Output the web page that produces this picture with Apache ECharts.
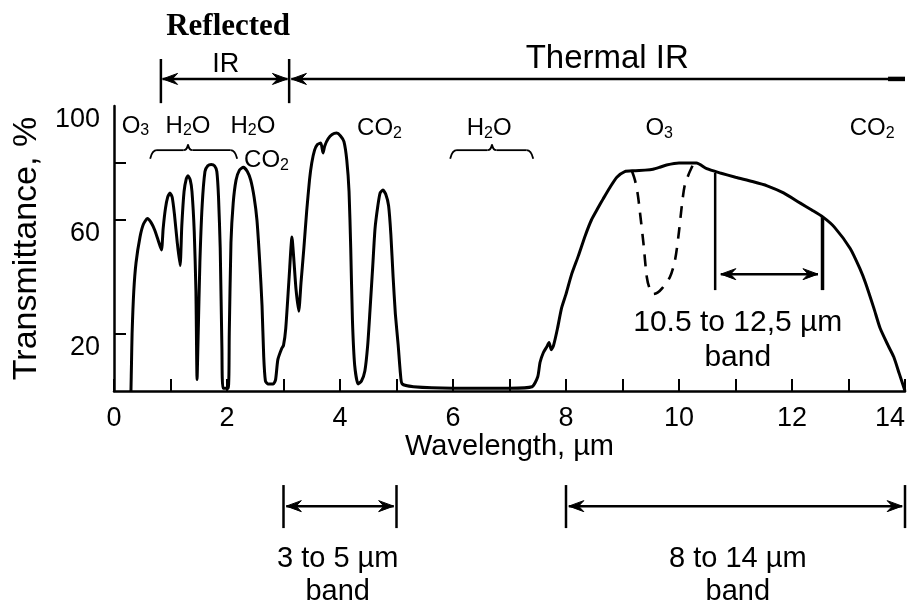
<!DOCTYPE html>
<html><head><meta charset="utf-8">
<script src="https://cdn.jsdelivr.net/npm/echarts@6/dist/echarts.min.js"></script>
<style>html,body{margin:0;padding:0;background:#fff}#c{width:909px;height:610px}</style>
</head><body><div id="c"></div>
<script>
// ---- data (wavelength in µm, transmittance in %) ----
const wavelength = [0.30,0.31,0.32,0.35,0.39,0.46,0.52,0.59,0.66,0.72,0.78,0.84,
  0.87,0.91,0.95,0.99,1.03,1.07,1.12,1.17,
  1.20,1.24,1.28,1.31,1.35,1.38,1.42,1.45,1.47,1.49,1.52,1.56,1.61,1.66,1.72,1.78,1.82,1.85,1.88,1.91,1.93,2.02,
  2.04,2.07,2.11,2.16,2.22,2.29,2.36,2.42,2.48,2.53,2.58,2.62,2.65,2.68,2.72,2.82,2.86,2.90,2.97,3.00,3.04,3.10,3.15,
  3.18,3.22,3.27,3.31,3.36,3.41,3.46,3.50,3.55,3.60,3.66,3.70,3.73,3.79,3.86,3.94,4.01,4.07,4.12,4.16,4.19,4.22,4.26,4.32,
  4.38,4.44,4.49,4.53,4.58,4.62,4.67,4.71,4.76,4.81,4.86,4.90,4.94,4.98,5.03,5.07,5.10,5.30,6.00,7.00,7.40,
  7.50,7.54,7.60,7.66,7.70,7.74,7.78,7.85,7.92,8.00,8.10,8.22,8.34,8.45,8.56,8.66,8.78,8.90,9.04,9.20,9.40,9.54,9.66,9.78,
  10.00,10.20,10.31,10.49,10.73,11.00,11.30,11.56,11.85,12.14,12.35,12.55,12.75,13.03,13.20,13.30,13.45,13.56,13.70,13.80,13.90,14.00];
const transmittance = [0,10,20,35,45,54,58.5,60.5,59,56.5,53,49.5,
  57,64,68,69.5,68,62,52,44,
  58,70,74.5,75.5,74,70,56,35,4,20,45,65,77,79,79.5,79,77,68,50,15,1,1,
  20,52,66,74,77.5,78.5,77,74,68,60,45,30,12,3.5,2.5,2.5,4,11,15,16,22,40,54,
  47,36,28,38,50,63,74,80,84.5,86.5,87,83.5,86,88.5,90,90.5,89.5,87.5,81,70,50,25,9,2.5,
  3.5,7,16,28,44,57,65,69.5,70.5,69,65,55,40,27,16,6,2.5,1.5,1,1,1.5,
  5,10,13.5,15.5,17,14.5,16,22,29,34,41,47.5,54.5,60,64,67.5,71.5,75,77,77.3,77.5,77.8,78.5,79.3,
  80,80,80,78,76.5,75,73.5,72,69.5,66,63.5,61,57.5,50,43,38,29,22,16,12,6,0];
// ozone absorption (dashed)
const o3Wavelength = [9.17,9.22,9.27,9.31,9.37,9.43,9.48,9.55,9.62,9.70,9.84,9.93,10.00,10.05,10.10,10.17,10.25];
const o3Transmittance = [77,74,69,62.5,52,40,36,34,34.5,36,40,46,56,65,72,76,79.5];
// axis ticks / labels
const xTickValues = [0,1,2,3,4,5,6,7,8,9,10,11,12,13,14];
const xLabelValues = [0,2,4,6,8,10,12,14];
const yTickValues = [20,60,80];
const yLabelValues = [20,60,100];

// ---- annotation anchors in data units (µm, %) ----
const ANN = {
  reflected: [2.02, 127.7], ir: [1.98, 114.5],
  reflBars: [0.83, 3.10], reflBarT: [101, 116.5], arrowT: 109.5,
  thermalStart: 3.14, thermalEnd: 14.0, thermalText: [8.73, 116.5],
  gases: [[0.38,93,'O','3',''],[1.31,93,'H','2','O'],[2.46,93,'H','2','O'],[2.70,81,'CO','2',''],
          [4.70,92,'CO','2',''],[6.64,92,'H','2','O'],[9.65,92,'O','3',''],[13.42,92,'CO','2','']],
  braces: [[0.64,2.18,1.31],[5.95,7.42,6.69]], braceT: [81.5,84.5,86.5],
  bandL: 10.64, bandR: 12.54, bandBottom: 35.4, bandArrowT: 41, bandText: [11.04, 23.9], bandText2: [11.04, 11.6],
  b35: [3.0, 5.0], b814: [8.0, 14.0], bBarT: [-33, -48.1], bArrowT: -40.4,
  b35Text: [3.96, -59, -70.5], b814Text: [11.04, -59, -70.5]
};

const FONT = 'Liberation Sans, Arial, Helvetica, sans-serif';
const chart = echarts.init(document.getElementById('c'), null, {renderer:'canvas'});
const curve = wavelength.map((x,i)=>[x, transmittance[i]]);
const o3 = o3Wavelength.map((x,i)=>[x, o3Transmittance[i]]);

chart.setOption({
  backgroundColor:'#fff',
  animation:false,
  grid:{left:114, right:4, top:106, bottom:219, containLabel:false, outerBoundsMode:'none'},
  xAxis:{type:'value', min:0, max:14, interval:2,
    name:'Wavelength, µm', nameLocation:'middle', nameGap:32,
    nameTextStyle:{fontFamily:FONT, fontSize:29, color:'#000'},
    axisLine:{lineStyle:{color:'#000', width:2.5}},
    axisTick:{inside:true, length:12, lineStyle:{color:'#000', width:2}, customValues:xTickValues},
    axisLabel:{fontFamily:FONT, fontSize:27, color:'#000', margin:14, customValues:xLabelValues, hideOverlap:false, alignMaxLabel:'right'},
    splitLine:{show:false}},
  yAxis:{type:'value', min:0, max:100, interval:20,
    name:'Transmittance, %', nameLocation:'middle', nameGap:60, nameRotate:90,
    nameTextStyle:{fontFamily:FONT, fontSize:34, color:'#000'},
    axisLine:{show:true, lineStyle:{color:'#000', width:2.5}},
    axisTick:{show:true, inside:true, length:12, lineStyle:{color:'#000', width:2}, customValues:yTickValues},
    axisLabel:{fontFamily:FONT, fontSize:27, color:'#000', margin:14, verticalAlign:'top', customValues:yLabelValues, hideOverlap:false},
    splitLine:{show:false}},
  series:[
    {type:'line', data:curve, showSymbol:false, symbol:'none', smooth:0.2, clip:false,
     lineStyle:{color:'#000', width:3}},
    {type:'line', data:o3, showSymbol:false, symbol:'none', smooth:0.3,
     lineStyle:{color:'#000', width:2.6, type:[12,9]}}
  ]
});

function P(x,y){ return chart.convertToPixel({gridIndex:0},[x,y]); }
const G = [];
function seg(x1,y1,x2,y2,w){ const a=P(x1,y1), b=P(x2,y2);
  G.push({type:'line', shape:{x1:a[0],y1:a[1],x2:b[0],y2:b[1]}, style:{stroke:'#000', lineWidth:w||2.5}, z:10}); }
function head(x,y,dir){ // dir: +1 points right, -1 points left
  const t=P(x,y), L=15, W=11;
  const bx=t[0]-dir*L;
  G.push({type:'polygon', shape:{points:[[t[0],t[1]],[bx,t[1]-W/2],[t[0]-dir*L*0.65,t[1]],[bx,t[1]+W/2]]},
    style:{fill:'#000', stroke:'#000', lineWidth:1}, z:10}); }
function dbl(x1,x2,y){ seg(x1,y,x2,y,2.5); head(x1,y,-1); head(x2,y,1); }
function txt(x,y,s,size,extra){ const p=P(x,y);
  G.push({type:'text', x:p[0], y:p[1], z:10, style:Object.assign({text:s, fill:'#000', font:size+'px '+FONT,
    textAlign:'center', textVerticalAlign:'middle'}, extra||{})}); }
function gas(x,y,a,sub,b){ const p=P(x,y);
  G.push({type:'text', x:p[0], y:p[1], z:10, style:{text:'{n|'+a+'}{s|'+sub+'}'+(b?'{n|'+b+'}':''),
    textAlign:'center', textVerticalAlign:'middle',
    rich:{n:{fontFamily:FONT, fontSize:24, fill:'#000', color:'#000'}, s:{fontFamily:FONT, fontSize:16, fill:'#000', color:'#000', padding:[10,0,0,0]}}}}); }
function qc(a,c,b){ G.push({type:'bezierCurve', shape:{x1:a[0],y1:a[1],cpx1:c[0],cpy1:c[1],x2:b[0],y2:b[1]},
    style:{stroke:'#000', fill:null, lineWidth:1.8}, z:10}); }
function brace(x0,x1,xc){ const T=ANN.braceT;
  const pe0=P(x0,T[0]), pl0=P(x0+0.12,T[1]), pc=P(xc,T[2]), pl1=P(x1-0.12,T[1]), pe1=P(x1,T[0]);
  const pcl=P(xc-0.08,T[1]), pcr=P(xc+0.08,T[1]);
  qc(pe0,[pe0[0]+2,pl0[1]],pl0);
  G.push({type:'line', shape:{x1:pl0[0],y1:pl0[1],x2:pcl[0],y2:pcl[1]}, style:{stroke:'#000', lineWidth:1.8}, z:10});
  qc(pcl,[pc[0]-1,pcl[1]],pc);
  qc(pc,[pc[0]+1,pcr[1]],pcr);
  G.push({type:'line', shape:{x1:pcr[0],y1:pcr[1],x2:pl1[0],y2:pl1[1]}, style:{stroke:'#000', lineWidth:1.8}, z:10});
  qc(pl1,[pe1[0]-2,pl1[1]],pe1); }

// top: Reflected IR / Thermal IR
txt(ANN.reflected[0], ANN.reflected[1], 'Reflected', 30, {font:'bold 31px Liberation Serif, Times New Roman, serif'});
txt(ANN.ir[0], ANN.ir[1], 'IR', 27);
seg(ANN.reflBars[0], ANN.reflBarT[0], ANN.reflBars[0], ANN.reflBarT[1], 2.5);
seg(ANN.reflBars[1], ANN.reflBarT[0], ANN.reflBars[1], ANN.reflBarT[1], 2.5);
dbl(ANN.reflBars[0]+0.03, ANN.reflBars[1]-0.03, ANN.arrowT);
seg(ANN.thermalStart, ANN.arrowT, ANN.thermalEnd, ANN.arrowT, 2.5);
head(ANN.thermalStart, ANN.arrowT, -1);
seg(ANN.thermalEnd-0.3, ANN.arrowT, ANN.thermalEnd, ANN.arrowT, 4.5);
txt(ANN.thermalText[0], ANN.thermalText[1], 'Thermal IR', 33);
// gases and braces
ANN.gases.forEach(g=>gas(g[0],g[1],g[2],g[3],g[4]));
ANN.braces.forEach(b=>brace(b[0],b[1],b[2]));
// 10.5-12.5 band
seg(ANN.bandL, 76.5, ANN.bandL, ANN.bandBottom, 2.5);
seg(ANN.bandR, 61, ANN.bandR, ANN.bandBottom, 3.5);
dbl(ANN.bandL+0.1, ANN.bandR-0.08, ANN.bandArrowT);
txt(ANN.bandText[0], ANN.bandText[1], '10.5 to 12,5 µm', 30);
txt(ANN.bandText2[0], ANN.bandText2[1], 'band', 30);
// bottom bands
[ANN.b35, ANN.b814].forEach(b=>{
  seg(b[0], ANN.bBarT[0], b[0], ANN.bBarT[1], 2.5);
  seg(b[1], ANN.bBarT[0], b[1], ANN.bBarT[1], 2.5);
  dbl(b[0]+0.05, b[1]-0.05, ANN.bArrowT);
});
txt(ANN.b35Text[0], ANN.b35Text[1], '3 to 5 µm', 29);
txt(ANN.b35Text[0], ANN.b35Text[2], 'band', 29);
txt(ANN.b814Text[0], ANN.b814Text[1], '8 to 14 µm', 29);
txt(ANN.b814Text[0], ANN.b814Text[2], 'band', 29);

chart.setOption({graphic: G});
</script></body></html>
